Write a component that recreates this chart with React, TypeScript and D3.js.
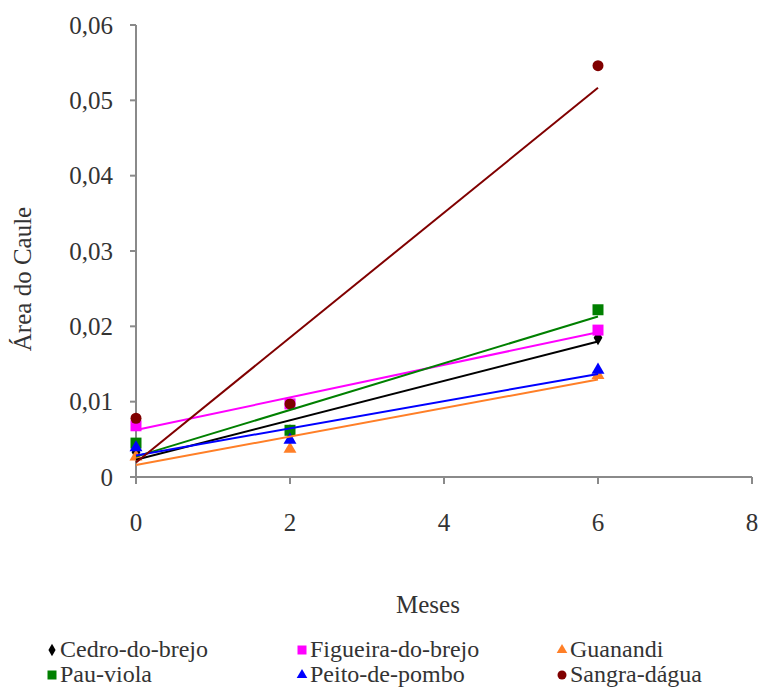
import React from "react";
import * as d3 from "d3";

const months = [0, 2, 6];
const seriesNames = ["Cedro-do-brejo", "Figueira-do-brejo", "Guanandi", "Pau-viola", "Peito-de-pombo", "Sangra-dágua"];
const cedroValues = [0.0033, 0.006, 0.0185];
const figueiraValues = [0.0068, 0.0097, 0.0195];
const guanandiValues = [0.0027, 0.0037, 0.0135];
const pauViolaValues = [0.0045, 0.0062, 0.0222];
const peitoValues = [0.0039, 0.0049, 0.0142];
const sangraValues = [0.0078, 0.0097, 0.0546];
const seriesColors = ["#000000", "#FF00FF", "#FF7F27", "#008000", "#0000FF", "#800000"];
const markerShapes = ["diamond", "square", "triangle", "square", "triangle", "circle"];
const xTicks = [0, 2, 4, 6, 8];
const yTicks = [0, 0.01, 0.02, 0.03, 0.04, 0.05, 0.06];

const allValues = [cedroValues, figueiraValues, guanandiValues, pauViolaValues, peitoValues, sangraValues];

function regress(xs: number[], ys: number[]) {
  const mx = d3.mean(xs)!;
  const my = d3.mean(ys)!;
  let sxy = 0, sxx = 0;
  xs.forEach((x, i) => { sxy += (x - mx) * (ys[i] - my); sxx += (x - mx) * (x - mx); });
  const b = sxy / sxx;
  return { a: my - b * mx, b };
}

const FONT = "'Times New Roman', Times, 'Liberation Serif', 'DejaVu Serif', serif";

function Marker({ shape, x, y, size, color }: { shape: string; x: number; y: number; size: number; color: string }) {
  const symType = shape === "diamond" ? d3.symbolDiamond : shape === "square" ? d3.symbolSquare : shape === "triangle" ? d3.symbolTriangle : d3.symbolCircle;
  const area = shape === "square" ? size * size : shape === "circle" ? Math.PI * (size / 2) * (size / 2) : shape === "triangle" ? size * size * 0.6 : size * size * 0.55;
  const path = d3.symbol().type(symType).size(area)();
  return <path d={path || ""} transform={`translate(${x},${y})`} fill={color} />;
}

export default function App() {
  const W = 758, H = 688;
  const x = d3.scaleLinear().domain([0, 8]).range([136, 752]);
  const y = d3.scaleLinear().domain([0, 0.06]).range([477, 25]);
  const fmtY = (v: number) => (v === 0 ? "0" : d3.format(".2f")(v).replace(".", ","));
  const axisColor = "#8a8a8a";

  const legendCols = [46, 296, 556];
  const legendRows = [657, 682];

  return (
    <svg width={W} height={H} style={{ position: "absolute", left: 0, top: 0, background: "#fff" }}>
      <g fontFamily={FONT} fill="#333">
        {/* Axes */}
        <line x1={x(0)} x2={x(0)} y1={y(0)} y2={y(0.06)} stroke={axisColor} strokeWidth={2} />
        <line x1={x(0)} x2={x(8)} y1={y(0)} y2={y(0)} stroke={axisColor} strokeWidth={2} />
        {yTicks.map((t) => (
          <g key={"y" + t}>
            <line x1={x(0) - 6} x2={x(0)} y1={y(t)} y2={y(t)} stroke={axisColor} strokeWidth={2} />
            <text x={113} y={y(t)} dy="0.35em" textAnchor="end" fontSize={25}>{fmtY(t)}</text>
          </g>
        ))}
        {xTicks.map((t) => (
          <g key={"x" + t}>
            <line x1={x(t)} x2={x(t)} y1={y(0)} y2={y(0) + 7} stroke={axisColor} strokeWidth={2} />
            <text x={x(t)} y={531} textAnchor="middle" fontSize={25}>{t}</text>
          </g>
        ))}
        <text x={428} y={613} textAnchor="middle" fontSize={25}>Meses</text>
        <text transform={`translate(31,279) rotate(-90)`} textAnchor="middle" fontSize={25}>Área do Caule</text>

        {/* Markers */}
        {allValues.map((vals, si) =>
          vals.map((v, i) => (
            <Marker key={si + "-" + i} shape={markerShapes[si]} x={x(months[i])} y={y(v)} size={11} color={seriesColors[si]} />
          ))
        )}

        {/* Trend lines */}
        {allValues.map((vals, si) => {
          const r = regress(months, vals);
          return (
            <line key={"t" + si} x1={x(0)} y1={y(r.a)} x2={x(6)} y2={y(r.a + r.b * 6)} stroke={seriesColors[si]} strokeWidth={2} />
          );
        })}

        {/* Legend */}
        {seriesNames.map((name, i) => {
          const col = i % 3, row = Math.floor(i / 3);
          const lx = legendCols[col], ly = legendRows[row];
          return (
            <g key={name}>
              <Marker shape={markerShapes[i]} x={lx + 6} y={ly - 7} size={9} color={seriesColors[i]} />
              <text x={lx + 14} y={ly} fontSize={24}>{name}</text>
            </g>
          );
        })}
      </g>
    </svg>
  );
}
